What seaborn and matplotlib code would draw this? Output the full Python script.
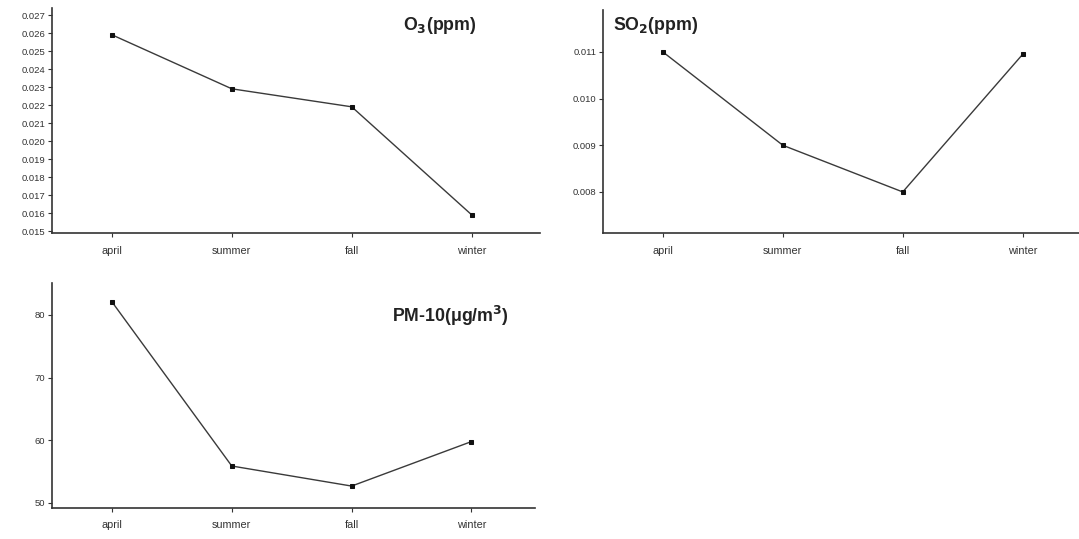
import matplotlib
matplotlib.use("Agg")
import matplotlib.pyplot as plt
import seaborn as sns
import pandas as pd

seasons = ["april", "summer", "fall", "winter"]
o3_ppm = [0.0259, 0.0229, 0.0219, 0.0159]
so2_ppm = [0.0110, 0.0090, 0.0080, 0.01095]
pm10 = [82.1, 55.9, 52.7, 59.8]

o3_ticks = [0.015 + 0.001 * i for i in range(13)]
so2_ticks = [0.008, 0.009, 0.010, 0.011]
pm10_ticks = [50, 60, 70, 80]

sns.set_style("ticks")
plt.rcParams["font.family"] = ["Liberation Sans", "DejaVu Sans"]

W, H = 1079, 539
fig = plt.figure(figsize=(W / 100, H / 100), dpi=100)


def px_axes(x0, y_top, x1, y_bottom):
    return fig.add_axes([x0 / W, (H - y_bottom) / H, (x1 - x0) / W, (y_bottom - y_top) / H])


def draw_panel(ax, values, yticks, fmt, ylim, xlim, title, title_xy, title_ha):
    df = pd.DataFrame({"season": seasons, "value": values})
    sns.lineplot(data=df, x="season", y="value", sort=False, ax=ax,
                 color="#3a3a3a", linewidth=1.0, marker="s", markersize=3.2,
                 markerfacecolor="#111111", markeredgecolor="#111111")
    ax.set_xlim(*xlim)
    ax.set_ylim(*ylim)
    ax.set_yticks(yticks)
    ax.set_yticklabels([fmt.format(t) for t in yticks])
    ax.set_xlabel("")
    ax.set_ylabel("")
    sns.despine(ax=ax)
    for s in ("left", "bottom"):
        ax.spines[s].set_linewidth(1.2)
        ax.spines[s].set_color("#333333")
    ax.tick_params(axis="both", direction="out", length=3, width=0.8,
                   colors="#333333", labelsize=6.8, pad=2)
    ax.tick_params(axis="x", labelsize=7.8, pad=6)
    ax.text(title_xy[0], title_xy[1], title, transform=ax.transAxes,
            ha=title_ha, va="center", fontsize=12.8, fontweight="bold",
            color="#222222")


ax1 = px_axes(52, 8, 540, 233)
draw_panel(ax1, o3_ppm, o3_ticks, "{:.3f}", (0.01489, 0.02739), (-0.5, 3.57),
           "O$_\\mathbf{3}$(ppm)", (0.795, 0.92), "center")

ax2 = px_axes(603, 10, 1079, 233)
draw_panel(ax2, so2_ppm, so2_ticks, "{:.3f}", (0.00712, 0.0119), (-0.5, 3.47),
           "SO$_\\mathbf{2}$(ppm)", (0.02, 0.93), "left")

ax3 = px_axes(52, 283, 535, 508)
draw_panel(ax3, pm10, pm10_ticks, "{:.0f}", (49.2, 85.1), (-0.5, 3.53),
           "PM-10(μg/m$^\\mathbf{3}$)", (0.945, 0.855), "right")

fig.savefig("out.png", dpi=100, facecolor="white")
